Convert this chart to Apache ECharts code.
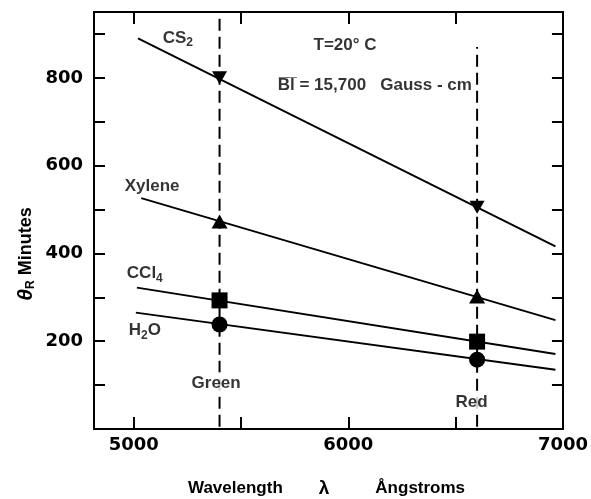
<!DOCTYPE html>
<html><head><meta charset="utf-8">
<script src="https://cdn.jsdelivr.net/npm/echarts@6/dist/echarts.min.js"></script>
<style>html,body{margin:0;padding:0;background:#fff}#c{width:591px;height:499px}</style>
</head><body><div id="c"></div>
<script>
// ---- data ----
const markerWavelengths = [5400, 6600];
const cs2Points = [800, 505];
const xylenePoints = [473, 302];
const ccl4Points = [293, 199];
const h2oPoints = [238, 158];
const cs2Line = [[5020, 890], [6965, 416]];
const xyleneLine = [[5035, 526], [6965, 248]];
const ccl4Line = [[5015, 322], [6965, 171]];
const h2oLine = [[5010, 265], [6965, 135]];
const greenGuide = [[5400, 5], [5400, 950]];
const redGuide = [[6600, 5], [6600, 870]];
const xTickValues = [5000, 5500, 6000, 6500, 7000];
const xTickLabels = [5000, 6000, 7000];
const yTickValues = [100, 200, 300, 400, 500, 600, 700, 800, 900];
const yTickLabels = [200, 400, 600, 800];
const annotationTexts = ['{n|CS}{s|2}', '{n|T=20° C}', '{n|B\u0305l\u0305 = 15,700   Gauss - cm}', '{n|Xylene}', '{n|CCl}{s|4}', '{n|H}{s|2}{n|O}', '{n|Green}', '{n|Red}'];
const annotationAnchors = [[5135, 891], [5838, 873], [5671, 782], [4958, 553], [4968, 354], [4977, 224], [5265, 103], [6495, 60]];
const boxedAnnotations = [6, 7];

const FONT = '"Liberation Sans", Arial, Helvetica, sans-serif';
const TICKFONT = '"DejaVu Sans", Verdana, sans-serif';
const BLACK = '#000';
const chart = echarts.init(document.getElementById('c'), null, {renderer: 'canvas'});

function pts(values) { return markerWavelengths.map((w, i) => [w, values[i]]); }
const lineStyle = {color: BLACK, width: 1.9};

function axisX(pos, showLabel) {
  return {
    type: 'value', position: pos, min: 4815, max: 7000,
    axisLine: {onZero: false, lineStyle: {color: BLACK, width: 2}},
    axisTick: {inside: true, length: 12, customValues: xTickValues, lineStyle: {color: BLACK, width: 2}},
    axisLabel: {show: showLabel, customValues: xTickLabels, formatter: v => String(v), color: BLACK, fontSize: 18, fontWeight: 'bold', margin: 7, fontFamily: TICKFONT},
    splitLine: {show: false}
  };
}
function axisY(pos, showLabel) {
  return {
    type: 'value', position: pos, min: 0, max: 950,
    axisLine: {onZero: false, lineStyle: {color: BLACK, width: 2}},
    axisTick: {inside: true, length: 11, customValues: yTickValues, lineStyle: {color: BLACK, width: 2}},
    axisLabel: {show: showLabel, customValues: yTickLabels, formatter: v => String(v), color: BLACK, fontSize: 18, fontWeight: 'bold', margin: 11, fontFamily: TICKFONT},
    splitLine: {show: false}
  };
}
const rich = {
  n: {fontSize: 17, fontWeight: 'bold', color: BLACK, fontFamily: FONT},
  s: {fontSize: 12, fontWeight: 'bold', color: BLACK, fontFamily: FONT, padding: [10, 0, 0, 0]}
};
const markerBase = {type: 'scatter', z: 5, itemStyle: {color: BLACK, opacity: 1}};

const annotationData = annotationAnchors.map((a, i) => {
  const label = {formatter: annotationTexts[i]};
  if (boxedAnnotations.indexOf(i) >= 0) { label.backgroundColor = '#fff'; label.padding = [3, 1, 3, 1]; }
  return {value: a, label: label};
});

const option = {
  animation: false,
  backgroundColor: '#fff',
  grid: {left: 94, top: 12, right: 26, bottom: 70, containLabel: false},
  xAxis: [axisX('bottom', true), axisX('top', false)],
  yAxis: [axisY('left', true), axisY('right', false)],
  series: [
    {type: 'line', z: 2, data: greenGuide, showSymbol: false, lineStyle: {color: BLACK, width: 2, type: [12, 6]}},
    {type: 'line', z: 2, data: redGuide, showSymbol: false, lineStyle: {color: BLACK, width: 2, type: [12, 6]}},
    {type: 'line', z: 2, data: cs2Line, showSymbol: false, lineStyle: lineStyle},
    {type: 'line', z: 2, data: xyleneLine, showSymbol: false, lineStyle: lineStyle},
    {type: 'line', z: 2, data: ccl4Line, showSymbol: false, lineStyle: lineStyle},
    {type: 'line', z: 2, data: h2oLine, showSymbol: false, lineStyle: lineStyle},
    Object.assign({}, markerBase, {data: pts(cs2Points), symbol: 'triangle', symbolRotate: 180, symbolSize: [15, 13]}),
    Object.assign({}, markerBase, {data: pts(xylenePoints), symbol: 'triangle', symbolSize: [16, 14]}),
    Object.assign({}, markerBase, {data: pts(ccl4Points), symbol: 'rect', symbolSize: 16}),
    Object.assign({}, markerBase, {data: pts(h2oPoints), symbol: 'circle', symbolSize: 16}),
    {type: 'scatter', z: 6, symbolSize: 0, silent: true,
     data: annotationData,
     label: {show: true, position: 'right', distance: 0, color: BLACK, rich: rich}}
  ],
  graphic: [
    {type: 'text', left: 188, top: 479, style: {
      text: '{a|Wavelength}{b|λ}{a|Ångstroms}',
      rich: {a: {fontSize: 17, fontWeight: 'bold', fill: BLACK, fontFamily: FONT},
             b: {fontSize: 19, fontWeight: 'bold', fill: BLACK, fontFamily: FONT, padding: [0, 46, 0, 36]}}
    }},
    {type: 'text', x: 26, y: 254, rotation: Math.PI / 2, style: {
      text: '{t|θ}{r|R}{m| Minutes}', align: 'center', verticalAlign: 'middle',
      rich: {t: {fontSize: 21, fill: BLACK, fontStyle: 'italic', fontWeight: 'bold', fontFamily: FONT},
             r: {fontSize: 12, fill: BLACK, fontFamily: FONT, fontWeight: 'bold', padding: [10, 0, 0, 0]},
             m: {fontSize: 18, fill: BLACK, fontWeight: 'bold', fontFamily: FONT}}
    }}
  ]
};
chart.setOption(option);
</script></body></html>
